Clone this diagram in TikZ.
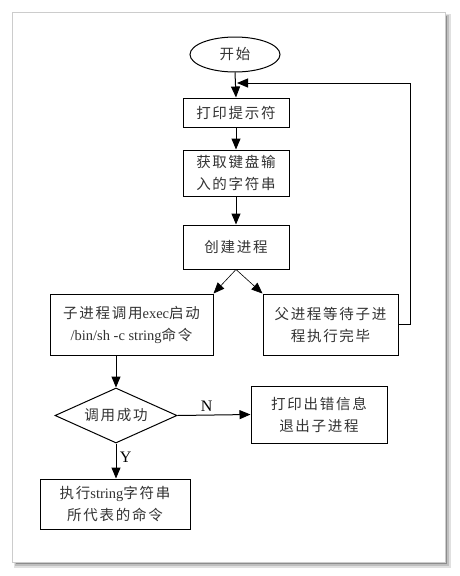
\documentclass[tikz,border=0pt]{standalone}
\usepackage{fontspec}
\setmainfont{Liberation Serif}
\newfontfamily\cjk[LetterSpace=12]{Noto Sans CJK SC}
\usetikzlibrary{shapes.geometric,arrows.meta}
\tikzset{
  box/.style={draw, line width=1pt, inner sep=0pt, align=center, text=black!80,
    font=\fontsize{14.5}{22}\selectfont},
  arr/.style={-{Triangle[length=11pt,width=9pt]}, line width=1pt},
  thinarr/.style={-{Triangle[length=11pt,width=9pt]}, line width=0.6pt},
  lbl/.style={font=\fontsize{16}{16}\selectfont, text=black}
}
\begin{document}
\begin{tikzpicture}[x=1pt,y=-1pt]
\useasboundingbox (0,0) rectangle (460,576);
% frame with shadow
\fill[black!12] (14,14) rectangle (451,568);
\fill[black!25] (15,15) rectangle (449,566);
\fill[black!45] (16,16) rectangle (447,564);
\draw[fill=white, draw=black!20] (12,12) rectangle (445,562);

\node[box, ellipse, minimum width=90pt, minimum height=35pt] (start) at (235,54.5) {\cjk 开始};
\node[box, minimum width=106pt, minimum height=29pt] (p1) at (236,112.5) {\cjk 打印提示符};
\node[box, minimum width=106pt, minimum height=46pt] (p2) at (236,173) {\cjk 获取键盘输\\\cjk 入的字符串};
\node[box, minimum width=106pt, minimum height=44pt] (p3) at (236,247) {\cjk 创建进程};
\node[box, minimum width=163pt, minimum height=61pt] (child) at (131.5,324.5)
  {{\cjk 子进程调用}exec{\cjk 启动}\\/bin/sh -c string{\cjk 命令}};
\node[box, minimum width=135pt, minimum height=61pt] (parent) at (330.5,324.5)
  {\cjk 父进程等待子进\\\cjk 程执行完毕};
\node[box, diamond, aspect=2.2, minimum width=122pt, minimum height=55pt] (ok) at (116,415.5) {\cjk 调用成功};
\node[box, minimum width=136pt, minimum height=57pt] (err) at (319,414.5)
  {\cjk 打印出错信息\\\cjk 退出子进程};
\node[box, minimum width=150pt, minimum height=50pt] (run) at (115,504)
  {{\cjk 执行}string{\cjk 字符串}\\\cjk 所代表的命令};

\draw[arr] (start.south) -- (p1.north);
\draw[arr] (p1) -- (p2);
\draw[arr] (p2) -- (p3);
\draw[thinarr] (p3.south) -- (child.north east);
\draw[thinarr] (p3.south) -- (parent.north west);
\coordinate (lp) at (410,83);
\coordinate (lt) at (237,83);
\draw[arr] (parent.east) -| (lp) -- (lt);
\draw[arr] (child.south -| ok.north) -- (ok.north);
\draw[arr] (ok.east) -- node[lbl, above, pos=0.4] {N} (err.west);
\draw[arr] (ok.south) -- node[lbl, right, pos=0.4] {Y} (run.north -| ok.south);
\end{tikzpicture}
\end{document}
